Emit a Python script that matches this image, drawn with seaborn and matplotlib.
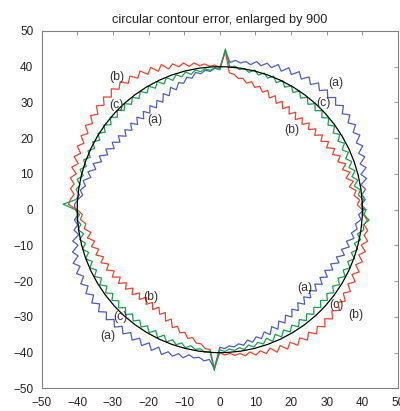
import numpy as np
import pandas as pd
import matplotlib
matplotlib.use("Agg")
import matplotlib.pyplot as plt
from matplotlib.patches import Circle
import seaborn as sns

# contour error (already x900), every 2 deg, starting at 0 deg (ccw)
angles_deg = np.arange(0, 360, 2)
nominal_radius = 40

err_a = [0.5, -0.3, 0.9, 0.1, 1.3, 0.2, 2.1, 0.8, 2.7, 1.4,
         3.3, 2.0, 3.9, 2.6, 4.5, 3.2, 4.9, 3.4, 5.1, 3.6,
         5.3, 3.7, 5.2, 3.6, 5.1, 3.5, 5.0, 3.3, 4.8, 3.1,
         4.6, 2.8, 4.2, 2.4, 3.8, 2.3, 3.1, 1.9, 2.7, 1.5,
         2.1, 1.45, 2.0, 1.3, 4.5, -0.8, -0.4, -1.2, -0.8, -1.6,
         -1.0, -2.4, -1.8, -3.2, -2.6, -4.3, -3.1, -5.1, -3.9, -5.9,
         -4.7, -6.4, -4.9, -6.6, -5.1, -6.8, -5.2, -6.8, -5.2, -6.8,
         -5.2, -6.6, -4.8, -6.2, -4.4, -5.8, -3.8, -5.0, -3.0, -4.2,
         -2.2, -3.4, -1.5, -2.7, -0.8, -1.7, -0.5, -1.3, 0.0, 0.8,
         0.5, -0.3, 0.9, 0.1, 1.3, 0.2, 2.2, 1.0, 3.0, 1.8,
         3.8, 2.3, 4.0, 2.5, 4.2, 2.7, 4.3, 2.7, 4.4, 2.8,
         4.4, 2.8, 4.3, 2.7, 4.2, 2.6, 4.1, 2.5, 4.0, 2.4,
         3.9, 2.2, 3.8, 2.1, 3.7, 2.3, 3.1, 1.9, 2.7, 1.5,
         2.1, 1.7, 2.5, 2.0, 4.5, -1.5, -1.1, -1.8, -1.4, -2.1,
         -1.5, -2.7, -1.8, -3.0, -2.1, -3.6, -2.3, -4.2, -2.8, -4.7,
         -3.4, -5.2, -3.8, -5.6, -4.2, -6.0, -4.4, -6.1, -4.5, -6.2,
         -4.6, -6.2, -4.5, -6.1, -4.4, -6.0, -4.1, -5.4, -3.4, -4.7,
         -2.8, -4.1, -2.2, -3.4, -1.5, -2.5, -1.1, -1.7, -0.3, -1.0]

err_b = [0.0, -1.4, -0.7, -2.1, -1.4, -3.1, -1.7, -3.5, -2.0, -3.8,
         -2.4, -4.3, -3.0, -4.8, -3.5, -5.4, -4.0, -5.8, -4.4, -6.2,
         -4.8, -6.5, -5.1, -6.8, -5.4, -7.1, -5.4, -6.9, -5.2, -6.7,
         -5.0, -6.3, -4.5, -5.8, -4.0, -5.0, -3.7, -4.4, -3.1, -3.8,
         -2.7, -2.9, -1.9, -1.6, 4.3, -0.3, 0.5, 0.2, 1.0, 0.7,
         1.7, 1.0, 2.3, 1.6, 2.9, 1.9, 3.8, 2.4, 4.3, 2.9,
         4.8, 3.4, 5.1, 3.7, 5.4, 4.0, 5.5, 3.8, 5.4, 3.7,
         5.2, 3.4, 4.8, 3.1, 4.5, 2.7, 4.1, 2.4, 3.8, 2.1,
         3.5, 1.8, 3.2, 1.5, 2.9, 1.5, 2.3, 1.1, 2.0, 2.5,
         0.0, -1.4, -0.8, -2.2, -1.6, -3.3, -2.0, -3.8, -2.5, -4.3,
         -3.0, -4.8, -3.5, -5.3, -4.0, -5.8, -4.4, -6.3, -4.9, -6.8,
         -5.4, -7.2, -5.8, -7.6, -6.2, -8.0, -6.4, -7.9, -6.3, -7.8,
         -6.2, -7.4, -5.3, -6.5, -4.4, -5.3, -3.8, -4.3, -2.9, -3.4,
         -2.1, -2.1, -0.9, -0.8, 4.3, 0.0, 0.7, 0.3, 1.0, 0.6,
         1.5, 0.7, 1.9, 1.1, 2.3, 1.2, 3.0, 1.6, 3.4, 2.0,
         3.8, 2.3, 4.0, 2.4, 4.1, 2.6, 4.1, 2.4, 4.0, 2.3,
         3.8, 2.1, 3.5, 1.8, 3.2, 1.5, 3.0, 1.3, 2.8, 1.1,
         2.6, 1.0, 2.5, 0.9, 2.4, 1.1, 1.9, 0.7, 1.5, 0.3]

err_c = [1.0, -0.3, 0.4, -0.9, -0.2, -1.7, -0.4, -1.8, -0.5, -1.9,
         -0.6, -1.9, -0.5, -1.8, -0.4, -1.7, -0.3, -1.6, -0.2, -1.5,
         -0.1, -1.5, -0.1, -1.5, -0.1, -1.5, -0.1, -1.4, 0.0, -1.3,
         0.1, -1.2, 0.2, -1.1, 0.3, -0.8, 0.2, -0.8, 0.3, -0.7,
         0.1, -0.4, 0.4, 0.0, 5.0, -0.8, -0.3, -0.9, -0.4, -1.0,
         -0.3, -1.3, -0.3, -1.3, -0.3, -1.5, -0.1, -1.5, -0.1, -1.5,
         -0.1, -1.5, -0.1, -1.5, -0.1, -1.5, -0.1, -1.4, 0.0, -1.3,
         0.1, -1.3, 0.2, -1.2, 0.3, -1.1, 0.4, -0.9, 0.5, -0.8,
         0.7, -0.6, 0.8, -0.5, 0.9, -0.2, 0.7, -0.4, 0.5, 4.0,
         0.5, -0.6, 0.3, -0.8, 0.1, -1.2, 0.2, -1.2, 0.1, -1.3,
         0.1, -1.4, -0.1, -1.5, -0.2, -1.7, -0.3, -1.8, -0.4, -1.9,
         -0.5, -1.9, -0.5, -1.9, -0.5, -1.9, -0.5, -1.8, -0.4, -1.7,
         -0.3, -1.7, -0.2, -1.6, -0.1, -1.3, -0.3, -1.2, -0.2, -1.1,
         -0.3, -0.7, 0.1, -0.3, 5.0, -0.8, -0.3, -0.9, -0.4, -1.0,
         -0.3, -1.3, -0.4, -1.4, -0.5, -1.7, -0.3, -1.8, -0.4, -1.9,
         -0.5, -1.9, -0.5, -2.0, -0.6, -2.0, -0.6, -2.0, -0.6, -2.0,
         -0.6, -1.9, -0.5, -1.8, -0.4, -1.7, -0.2, -1.5, 0.0, -1.3,
         0.2, -1.2, 0.3, -1.1, 0.4, -0.8, 0.8, 0.4, 2.0, 0.5]

curve_names = ['(a)', '(b)', '(c)']
curve_colors = ['#4a5cc4', '#f0402a', '#16a04c']
tick_values = [-50, -40, -30, -20, -10, 0, 10, 20, 30, 40, 50]

# where the (a)/(b)/(c) tags sit
tag_names = ['(a)', '(c)', '(b)', '(b)', '(c)', '(a)', '(b)', '(c)', '(a)', '(a)', '(c)', '(b)']
tag_x = [32.5, 29.0, 20.1, -28.9, -28.9, -18.2, -19.4, -28.0, -31.3, 23.8, 32.7, 38.3]
tag_y = [35.4, 29.9, 22.2, 37.1, 29.2, 25.2, -24.3, -29.9, -35.3, -21.9, -26.8, -29.6]

frames = []
for name, err in zip(curve_names, [err_a, err_b, err_c]):
    assert len(err) == len(angles_deg)
    th = np.deg2rad(np.append(angles_deg, 360))
    r = nominal_radius + np.append(err, err[0])
    frames.append(pd.DataFrame({'x': r * np.cos(th), 'y': r * np.sin(th), 'curve': name}))
df = pd.concat(frames, ignore_index=True)

sns.set_style("white")
plt.rcParams['font.family'] = ['Liberation Sans', 'DejaVu Sans']

fig = plt.figure(figsize=(4, 4.11), dpi=100)
ax = fig.add_axes([0.104, 0.055, 0.891, 0.8696])

sns.lineplot(data=df, x='x', y='y', hue='curve', hue_order=curve_names,
             palette=curve_colors, sort=False, estimator=None, legend=False,
             linewidth=0.9, ax=ax)
ax.add_patch(Circle((0, 0), nominal_radius, fill=False, color='black', lw=0.9, zorder=5))

for t, x, y in zip(tag_names, tag_x, tag_y):
    ax.text(x, y, t, ha='center', va='center', fontsize=8.8, color='#333333', zorder=6)

ax.set_xlim(-50, 50)
ax.set_ylim(-50, 50)
ax.set_xticks(tick_values)
ax.set_yticks(tick_values)
ax.set_xlabel('')
ax.set_ylabel('')
ax.tick_params(direction='in', top=True, right=True, length=3, width=0.6,
               color='#808080', labelcolor='#222222', labelsize=8.5, pad=6)
for s in ax.spines.values():
    s.set_color('#808080')
    s.set_linewidth(0.8)
ax.set_title('circular contour error, enlarged by 900', fontsize=9.2, color='#222222', pad=6)

plt.savefig('out.png', dpi=100)
